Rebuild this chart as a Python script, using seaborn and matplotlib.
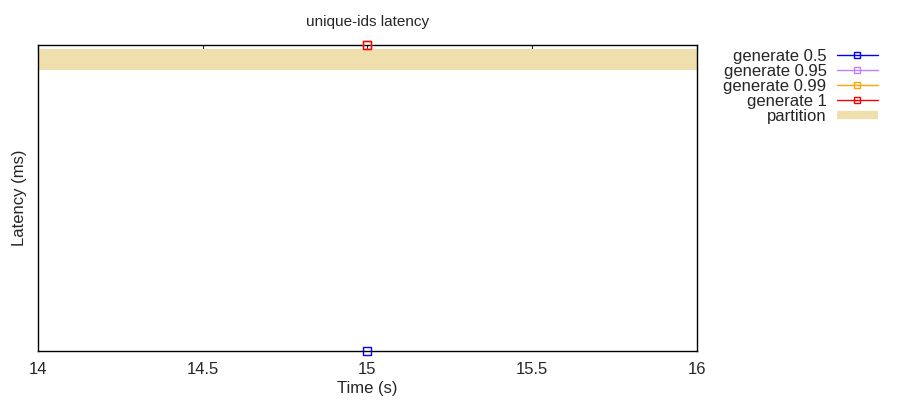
import pandas as pd
import seaborn as sns
import matplotlib.pyplot as plt
from matplotlib.lines import Line2D

# latency quantiles at t=15s (normalised, the axis has no y labels)
series = ['generate 0.5', 'generate 0.95', 'generate 0.99', 'generate 1']
colors = ['#0000ff', '#bf80ff', '#ffa500', '#ff0000']
times = [15, 15, 15, 15]
latency = [0.0, 1.0, 1.0, 1.0]

# partition window spans the whole time range
partition_x = [14, 16]
partition_y = [0.918, 0.987]

sns.set_style('white')
plt.rcParams['font.family'] = ['Liberation Sans', 'DejaVu Sans']

df = pd.DataFrame({'series': series, 'time': times, 'latency': latency})

fig = plt.figure(figsize=(9, 4), dpi=100)
ax = fig.add_axes([0.0422, 0.1225, 0.7322, 0.765])

ax.fill_between(partition_x, partition_y[0], partition_y[1], color='#eedfac', lw=0)

handles = []
for name, col in zip(series, colors):
    sub = df[df['series'] == name]
    sns.lineplot(data=sub, x='time', y='latency', ax=ax, color=col, marker='s',
                 markersize=5.5, markerfacecolor='none', markeredgecolor=col,
                 markeredgewidth=1, lw=1, clip_on=False, zorder=5)
    handles.append(Line2D([], [], color=col, lw=1, marker='s', markersize=5,
                          markerfacecolor='none', markeredgecolor=col))
handles.append(Line2D([], [], color='#eedfac', lw=6, solid_capstyle='butt'))

ax.set_xlim(14, 16)
ax.set_ylim(0, 1)
ax.set_xticks([14, 14.5, 15, 15.5, 16])
ax.set_xticklabels(['14', '14.5', '15', '15.5', '16'])
ax.set_yticks([])
ax.tick_params(axis='x', direction='in', top=True, length=5, labelsize=12, pad=8)
for s in ax.spines.values():
    s.set_color('black')
    s.set_linewidth(1)
ax.set_xlabel('Time (s)', fontsize=12, labelpad=3)
ax.set_ylabel('Latency (ms)', fontsize=12, labelpad=8)
ax.set_title('unique-ids latency', fontsize=11, pad=14)

ax.legend(handles, series + ['partition'], loc='upper right', bbox_to_anchor=(0.985, 0.898),
          bbox_transform=fig.transFigure, frameon=False, markerfirst=False,
          fontsize=12, handlelength=2.5, handletextpad=0.6, labelspacing=0.0, borderpad=0)

fig.savefig('out.png', dpi=100)
